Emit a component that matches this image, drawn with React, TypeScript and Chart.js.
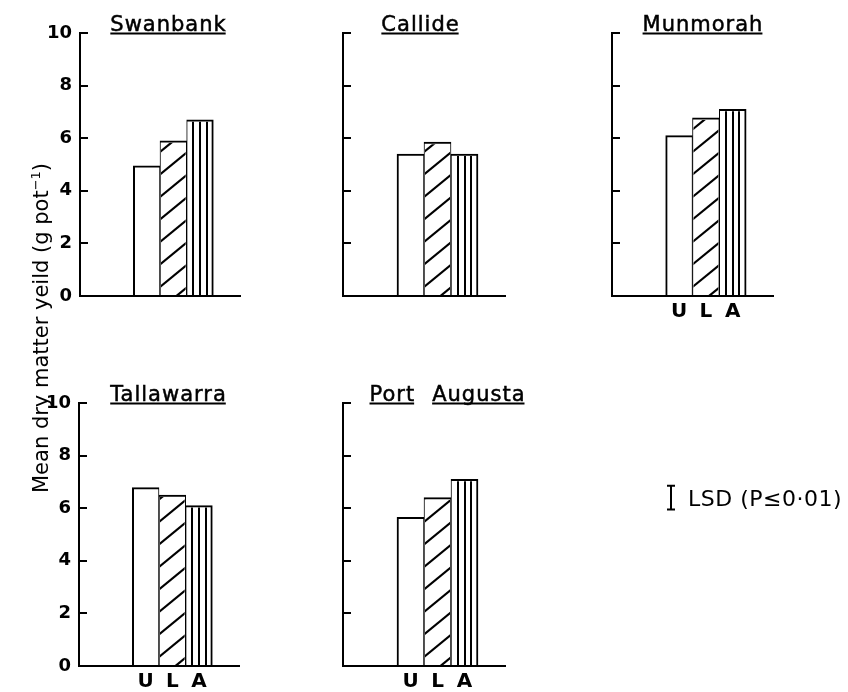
import React, { useEffect, useRef } from 'react';
import { Chart, registerables } from 'chart.js';

Chart.register(...registerables);
Chart.defaults.font.family = "'DejaVu Sans', sans-serif";
Chart.defaults.color = '#000';

// ---------- data ----------
const categories = ['U', 'L', 'A'];
const sites = ['Swanbank', 'Callide', 'Munmorah', 'Tallawarra', 'Port Augusta'];
const swanbank = [4.95, 5.9, 6.7];
const callide = [5.4, 5.85, 5.4];
const munmorah = [6.1, 6.77, 7.1];
const tallawarra = [6.78, 6.5, 6.1];
const portAugusta = [5.65, 6.4, 7.1];
const yTicks = [0, 2, 4, 6, 8, 10];
const lsdValue = 0.9;
const lsdLabel = 'LSD (P≤0·01)';
const yTitle = 'Mean dry matter yeild (g pot';
const yTitleSup = '−1';
const yTitleEnd = ')';

const siteValues = [swanbank, callide, munmorah, tallawarra, portAugusta];

// ---------- layout / style ----------
const PAD_LEFT = 2;
const PAD_RIGHT = 1;
const Y_AXIS_W = 40;
const X_AXIS_H = 26;
const PAD_TOP = 33;
const AREA_H = 263;
const patterns = ['none', 'diagonal', 'vertical'];

type PanelLayout = {
  left: number;
  top: number;
  areaW: number;
  padRight: number;
  yLabels: boolean;
  xLabels: boolean;
  titleDx: number;
  lsd?: boolean;
};

const layout: PanelLayout[] = [
  { left: 40, top: 0, areaW: 160, padRight: 12, yLabels: true, xLabels: false, titleDx: 8 },
  { left: 303, top: 0, areaW: 162, padRight: 12, yLabels: false, xLabels: false, titleDx: -4 },
  { left: 572, top: 0, areaW: 161, padRight: 12, yLabels: false, xLabels: true, titleDx: 10 },
  { left: 39, top: 370, areaW: 160, padRight: 12, yLabels: true, xLabels: true, titleDx: 9 },
  { left: 303, top: 370, areaW: 162, padRight: 343, yLabels: false, xLabels: true, titleDx: 23, lsd: true },
];

function Panel({ idx }: { idx: number }) {
  const ref = useRef<HTMLCanvasElement>(null);
  const L = layout[idx];
  const w = Y_AXIS_W + L.areaW + L.padRight;
  const h = PAD_TOP + AREA_H + X_AXIS_H;

  useEffect(() => {
    if (!ref.current) return;
    const labels = [...Array(PAD_LEFT).fill(''), ...categories, ...Array(PAD_RIGHT).fill('')];
    const data = [...Array(PAD_LEFT).fill(null), ...siteValues[idx], ...Array(PAD_RIGHT).fill(null)];

    const hatchPlugin = {
      id: 'hatch',
      afterDatasetsDraw(chart: any) {
        const ctx = chart.ctx;
        const meta = chart.getDatasetMeta(0);
        meta.data.forEach((el: any, i: number) => {
          const ci = i - PAD_LEFT;
          if (ci < 0 || ci >= categories.length) return;
          const kind = patterns[ci];
          if (kind === 'none') return;
          const p = el.getProps(['x', 'y', 'base', 'width'], true);
          const left = p.x - p.width / 2;
          const right = p.x + p.width / 2;
          const top = p.y;
          const bottom = p.base;
          ctx.save();
          ctx.beginPath();
          ctx.rect(left + 1, top + 2, right - left - 2, bottom - top - 2);
          ctx.clip();
          ctx.strokeStyle = '#000';
          if (kind === 'diagonal') {
            ctx.lineWidth = 2.2;
            const spacing = 22.5;
            const rise = 0.82 * (right - left);
            for (let k = -2; k < 40; k++) {
              const y0 = bottom - 9 - k * spacing;
              if (y0 < top - 2) break;
              ctx.beginPath();
              ctx.moveTo(left, y0);
              ctx.lineTo(right, y0 - rise);
              ctx.stroke();
            }
          } else if (kind === 'vertical') {
            ctx.lineWidth = 2;
            for (let j = 1; j < 4; j++) {
              const x = Math.round(left + ((right - left) * j) / 4);
              ctx.beginPath();
              ctx.moveTo(x, top);
              ctx.lineTo(x, bottom);
              ctx.stroke();
            }
          }
          ctx.restore();
        });
      },
    };

    const ticksPlugin = {
      id: 'inwardTicks',
      afterDraw(chart: any) {
        const ctx = chart.ctx;
        const ys = chart.scales.y;
        const left = chart.chartArea.left;
        ctx.save();
        ctx.strokeStyle = '#000';
        ctx.lineWidth = 2;
        ys.ticks.forEach((t: any) => {
          const y = Math.round(ys.getPixelForValue(t.value));
          ctx.beginPath();
          ctx.moveTo(left, y);
          ctx.lineTo(left + 8, y);
          ctx.stroke();
        });
        ctx.restore();
      },
    };

    const titlePlugin = {
      id: 'siteTitle',
      afterDraw(chart: any) {
        const ctx = chart.ctx;
        const area = chart.chartArea;
        ctx.save();
        ctx.font = "21px 'DejaVu Sans'";
        (ctx as any).letterSpacing = '1px';
        ctx.fillStyle = '#000';
        ctx.strokeStyle = '#000';
        ctx.lineWidth = 2;
        ctx.textBaseline = 'alphabetic';
        ctx.textAlign = 'left';
        const words = sites[idx].split(' ');
        const gap = 18;
        const widths = words.map((wd) => ctx.measureText(wd).width - 1);
        const total = widths.reduce((a, b) => a + b, 0) + gap * (words.length - 1);
        let x = (area.left + area.right) / 2 + L.titleDx - total / 2;
        const baseline = area.top - 2.5;
        const uy = area.top + 0.5;
        words.forEach((wd, i) => {
          ctx.fillText(wd, x, baseline);
          ctx.lineWidth = 0.5;
          ctx.strokeText(wd, x, baseline);
          ctx.lineWidth = 2;
          ctx.beginPath();
          ctx.moveTo(x, uy);
          ctx.lineTo(x + widths[i], uy);
          ctx.stroke();
          x += widths[i] + gap;
        });
        ctx.restore();
      },
    };

    const lsdPlugin = {
      id: 'lsd',
      afterDraw(chart: any) {
        if (!L.lsd) return;
        const ctx = chart.ctx;
        const ys = chart.scales.y;
        const area = chart.chartArea;
        const centerVal = 6.4;
        const yTop = ys.getPixelForValue(centerVal + lsdValue / 2);
        const yBot = ys.getPixelForValue(centerVal - lsdValue / 2);
        const yMid = (yTop + yBot) / 2;
        const x = area.right + 166;
        ctx.save();
        ctx.strokeStyle = '#000';
        ctx.lineWidth = 2;
        ctx.beginPath();
        ctx.moveTo(x, yTop);
        ctx.lineTo(x, yBot);
        ctx.moveTo(x - 4, yTop);
        ctx.lineTo(x + 4, yTop);
        ctx.moveTo(x - 4, yBot);
        ctx.lineTo(x + 4, yBot);
        ctx.stroke();
        ctx.font = "22px 'DejaVu Sans'";
        (ctx as any).letterSpacing = '0.5px';
        ctx.fillStyle = '#000';
        ctx.textAlign = 'left';
        ctx.textBaseline = 'alphabetic';
        ctx.fillText(lsdLabel, area.right + 183, yMid + 8);
        ctx.restore();
      },
    };

    const chart = new Chart(ref.current, {
      type: 'bar',
      data: {
        labels,
        datasets: [
          {
            data,
            backgroundColor: '#fff',
            borderColor: '#000',
            borderWidth: (c: any) => {
              const ci = c.dataIndex - PAD_LEFT;
              return {
                top: 2,
                bottom: 0,
                left: ci === 0 ? 2 : 1,
                right: ci === categories.length - 1 ? 2 : 1,
              };
            },
            borderSkipped: false,
            barPercentage: 1,
            categoryPercentage: 1,
          } as any,
        ],
      },
      options: {
        responsive: false,
        maintainAspectRatio: false,
        animation: false,
        devicePixelRatio: 1,
        layout: { padding: { top: PAD_TOP, right: L.padRight, left: 0, bottom: 0 } },
        plugins: {
          legend: { display: false },
          tooltip: { enabled: false },
          title: { display: false },
        },
        scales: {
          x: {
            type: 'category',
            offset: true,
            z: 1,
            grid: { display: false, drawTicks: false },
            border: { display: true, color: '#000', width: 2, z: 1 } as any,
            ticks: {
              display: L.xLabels,
              color: '#000',
              font: { size: 20, weight: 'bold' },
              padding: 4,
              autoSkip: false,
              maxRotation: 0,
            },
            afterFit: (s: any) => {
              s.height = X_AXIS_H;
            },
          },
          y: {
            min: 0,
            max: 10,
            z: 1,
            grid: { display: false, drawTicks: false },
            border: { display: true, color: '#000', width: 2, z: 1 } as any,
            ticks: {
              display: L.yLabels,
              color: '#000',
              font: { size: 18, weight: 'bold' },
              padding: 8,
            },
            afterBuildTicks: (s: any) => {
              s.ticks = yTicks.map((v) => ({ value: v }));
            },
            afterFit: (s: any) => {
              s.width = Y_AXIS_W;
            },
          },
        },
      } as any,
      plugins: [hatchPlugin, ticksPlugin, titlePlugin, lsdPlugin],
    });
    return () => chart.destroy();
  }, [idx]);

  return (
    <canvas
      ref={ref}
      width={w}
      height={h}
      style={{ position: 'absolute', left: L.left, top: L.top, width: w, height: h }}
    />
  );
}

export default function App() {
  return (
    <div
      style={{
        position: 'absolute',
        left: 0,
        top: 0,
        width: 848,
        height: 692,
        overflow: 'hidden',
        background: '#fff',
        fontFamily: "'DejaVu Sans', sans-serif",
      }}
    >
      {layout.map((_, i) => (
        <Panel key={i} idx={i} />
      ))}
      <div
        style={{
          position: 'absolute',
          left: 41 - 200,
          top: 328 - 12,
          width: 400,
          height: 24,
          lineHeight: '24px',
          textAlign: 'center',
          transform: 'rotate(-90deg)',
          fontSize: 21,
          whiteSpace: 'nowrap',
          color: '#000',
        }}
      >
        {yTitle}
        <span style={{ fontSize: 13, position: 'relative', top: -8 }}>{yTitleSup}</span>
        {yTitleEnd}
      </div>
    </div>
  );
}
